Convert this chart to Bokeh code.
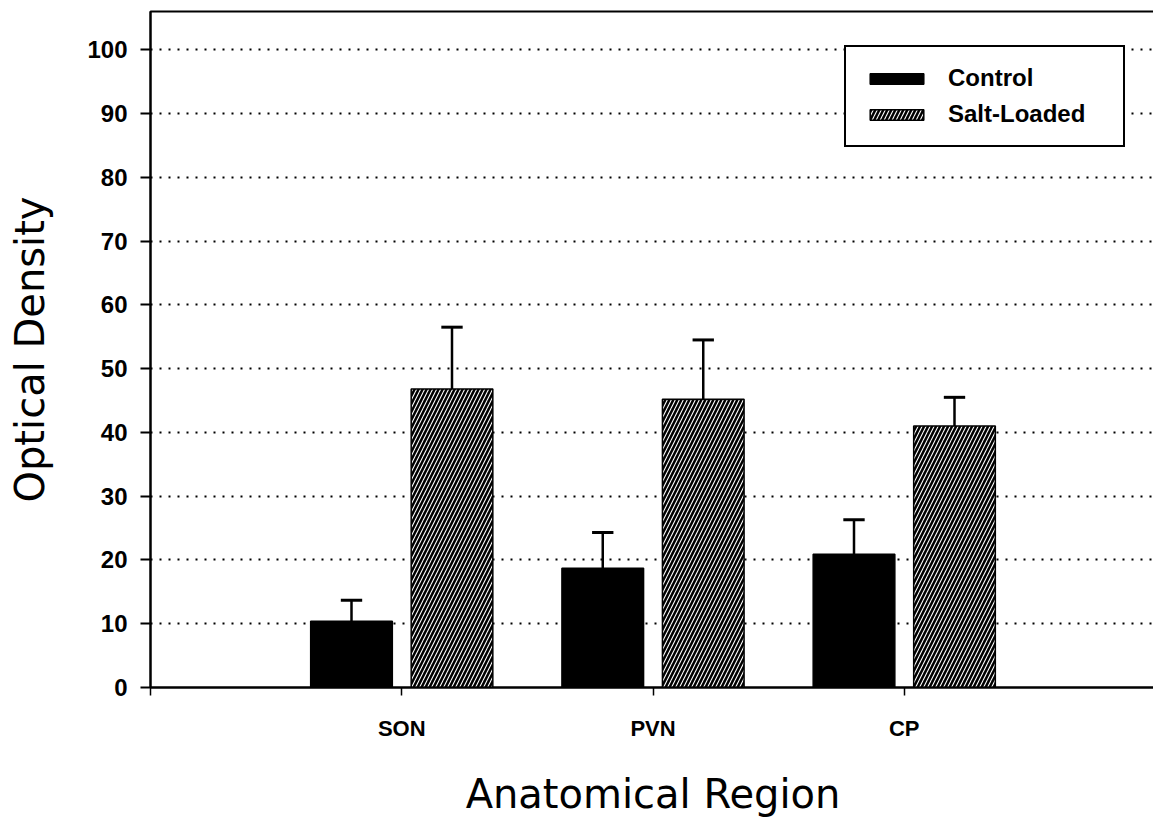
from bokeh.plotting import figure
from bokeh.models import Range1d, FixedTicker, Legend, LegendItem, ColumnDataSource
from bokeh.embed import file_html
from bokeh.resources import INLINE

# ---- data ----
regions = ["SON", "PVN", "CP"]
control = [10.4, 18.7, 20.9]
control_err = [3.3, 5.6, 5.4]
salt = [46.8, 45.2, 41.0]
salt_err = [9.7, 9.3, 4.5]
y_ticks = [0, 10, 20, 30, 40, 50, 60, 70, 80, 90, 100]

group_x = [1, 2, 3]
offset = 0.2
bar_w = 0.325
cap_w = 0.085

ctrl_x = [g - offset for g in group_x]
salt_x = [g + offset for g in group_x]

ctrl_src = ColumnDataSource(dict(
    x=ctrl_x, top=control,
    up=[v + e for v, e in zip(control, control_err)],
    x0=[x - cap_w / 2 for x in ctrl_x], x1=[x + cap_w / 2 for x in ctrl_x]))
salt_src = ColumnDataSource(dict(
    x=salt_x, top=salt,
    up=[v + e for v, e in zip(salt, salt_err)],
    x0=[x - cap_w / 2 for x in salt_x], x1=[x + cap_w / 2 for x in salt_x]))

p = figure(frame_width=1005, frame_height=676,
           x_range=Range1d(0, 4), y_range=Range1d(0, 106),
           output_backend="svg", toolbar_location=None,
           min_border_left=150, min_border_right=0,
           min_border_top=11, min_border_bottom=128)

p.background_fill_color = "white"
p.border_fill_color = "white"
p.outline_line_color = "black"
p.outline_line_width = 2

# grid
p.xgrid.grid_line_color = None
p.ygrid.ticker = FixedTicker(ticks=y_ticks[1:])
p.ygrid.grid_line_color = "black"
p.ygrid.grid_line_width = 2
p.ygrid.grid_line_dash = "2 7"

# bars
r_ctrl = p.vbar(x="x", top="top", width=bar_w, bottom=0, source=ctrl_src,
                fill_color="black", line_color="black", line_width=1.5)
r_salt = p.vbar(x="x", top="top", width=bar_w, bottom=0, source=salt_src,
                fill_color="black", line_color="black", line_width=1.5,
                hatch_pattern="/", hatch_color="white", hatch_scale=8,
                hatch_weight=1.1)

# error bars (upper only)
for src in (ctrl_src, salt_src):
    p.segment(x0="x", y0="top", x1="x", y1="up", source=src,
              line_color="black", line_width=2.5)
    p.segment(x0="x0", y0="up", x1="x1", y1="up", source=src,
              line_color="black", line_width=3)

# axes
yax = p.yaxis[0]
yax.ticker = FixedTicker(ticks=y_ticks)
yax.axis_label = "Optical Density"
yax.axis_label_text_font = "DejaVu Sans"
yax.axis_label_text_font_size = "40px"
yax.axis_label_text_font_style = "normal"
yax.axis_label_text_color = "black"
yax.axis_label_standoff = 31
yax.major_label_text_font = "Liberation Sans"
yax.major_label_text_font_style = "bold"
yax.major_label_text_font_size = "24px"
yax.major_label_text_color = "black"
yax.major_label_standoff = 13
yax.major_tick_out = 10
yax.major_tick_in = 0
yax.minor_tick_line_color = None
yax.axis_line_width = 2
yax.major_tick_line_width = 2

xax = p.xaxis[0]
xax.ticker = FixedTicker(ticks=[0] + group_x)
xax.major_label_overrides = {0: "", **{g: r for g, r in zip(group_x, regions)}}
xax.axis_label = "Anatomical Region"
xax.axis_label_text_font = "DejaVu Sans"
xax.axis_label_text_font_size = "40px"
xax.axis_label_text_font_style = "normal"
xax.axis_label_text_color = "black"
xax.axis_label_standoff = 27
xax.major_label_text_font = "Liberation Sans"
xax.major_label_text_font_style = "bold"
xax.major_label_text_font_size = "22px"
xax.major_label_text_color = "black"
xax.major_label_standoff = 20
xax.major_tick_out = 8
xax.major_tick_in = 0
xax.minor_tick_line_color = None
xax.axis_line_width = 2
xax.major_tick_line_width = 1.5

# legend
legend = Legend(items=[LegendItem(label="Control", renderers=[r_ctrl]),
                       LegendItem(label="Salt-Loaded", renderers=[r_salt])],
                location=(694, 540), margin=0)
legend.border_line_color = "black"
legend.border_line_alpha = 1.0
legend.border_line_width = 2
legend.background_fill_color = "white"
legend.background_fill_alpha = 1
legend.label_text_font = "Liberation Sans"
legend.label_text_font_style = "bold"
legend.label_text_font_size = "24px"
legend.label_text_color = "black"
legend.glyph_width = 67
legend.glyph_height = 13
legend.label_height = 26
legend.label_width = 158
legend.label_standoff = 18
legend.padding = 17
legend.spacing = 8
p.add_layout(legend, "center")

open("out.html", "w").write(file_html(p, INLINE))
